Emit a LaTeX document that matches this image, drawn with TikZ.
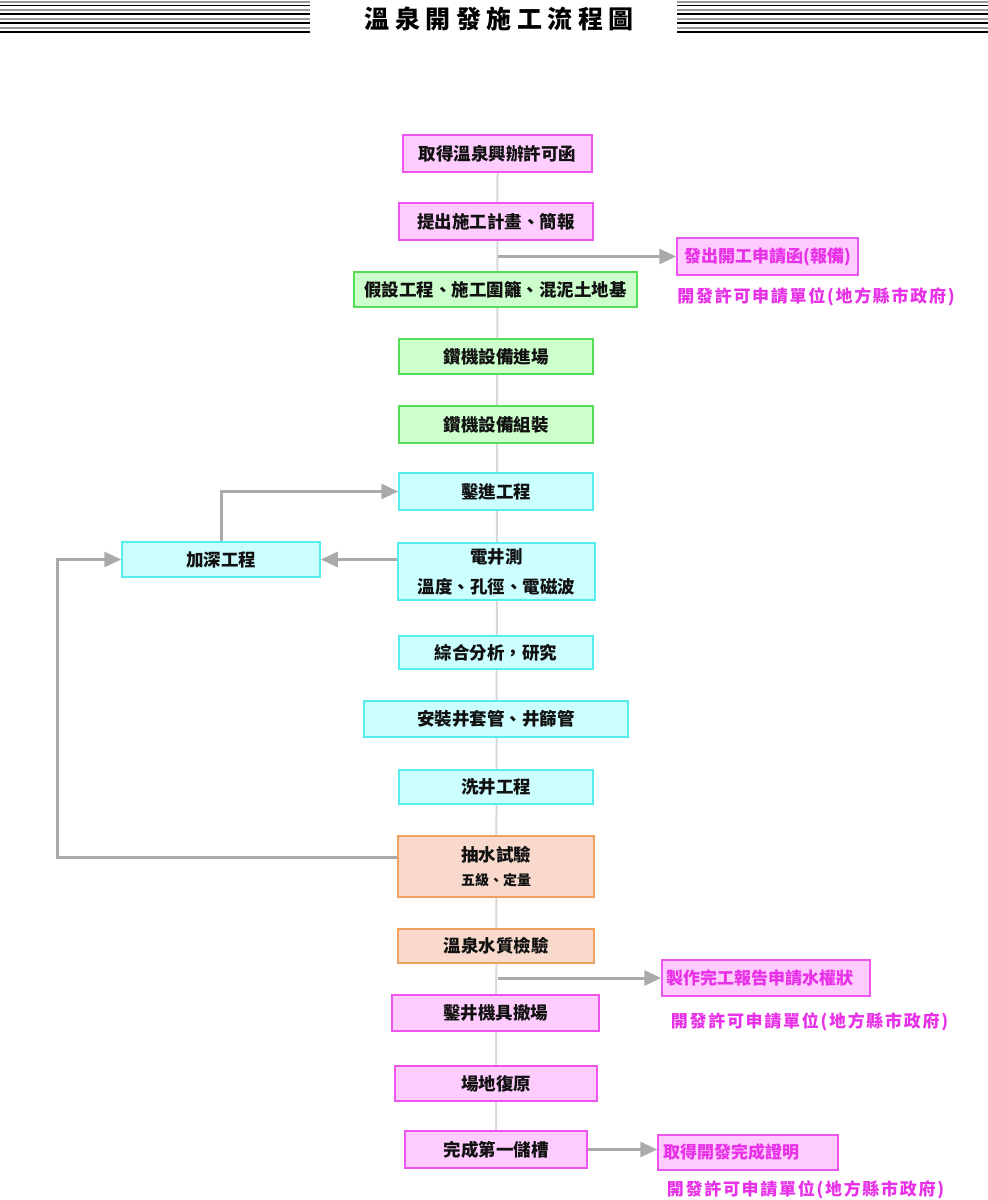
\documentclass[tikz,border=0pt]{standalone}
\usepackage{fontspec}
\usetikzlibrary{arrows.meta,backgrounds}
\newfontfamily\cjk{Noto Sans CJK TC}
\newfontfamily\cjktitle[LetterSpace=22]{Noto Sans CJK TC}
\newfontfamily\cjklab[LetterSpace=10]{Noto Sans CJK TC}
\definecolor{pinkfill}{HTML}{FFCCFF}
\definecolor{pinkline}{HTML}{EE55EE}
\definecolor{greenfill}{HTML}{CCFFCC}
\definecolor{greenline}{HTML}{55DD55}
\definecolor{cyanfill}{HTML}{CCFFFF}
\definecolor{cyanline}{HTML}{55EEEE}
\definecolor{orgfill}{HTML}{F8D9CB}
\definecolor{orgline}{HTML}{F0A060}
\definecolor{magtext}{HTML}{E830E8}
\definecolor{arrgray}{HTML}{AAAAAA}
\definecolor{maingray}{HTML}{D8D8D8}
\definecolor{stripegray}{HTML}{999999}
\definecolor{boxtext}{HTML}{111111}
\tikzset{
  box/.style={draw, line width=1.5pt, inner sep=0pt, align=center, text=boxtext,
    font=\cjk\bfseries\fontsize{17.5}{30}\selectfont},
  pinkbox/.style={box, fill=pinkfill, draw=pinkline},
  greenbox/.style={box, fill=greenfill, draw=greenline},
  cyanbox/.style={box, fill=cyanfill, draw=cyanline},
  orgbox/.style={box, fill=orgfill, draw=orgline},
  magbox/.style={pinkbox, text=magtext, font=\cjk\bfseries\fontsize{17}{20}\selectfont},
  maglabel/.style={text=magtext, inner sep=0pt, font=\cjklab\bfseries\fontsize{17}{20}\selectfont},
  arr/.style={draw=arrgray, line width=3pt, -{Triangle[length=17pt,width=15pt]}, color=arrgray},
  gstripe/.style={stripegray, line width=2pt},
  kstripe/.style={black, line width=1.3pt},
}
\begin{document}
\begin{tikzpicture}[x=1pt,y=-1pt]
\useasboundingbox (0,0) rectangle (988,1200);
% header stripes
\foreach \yy in {1.5,10,18.5,27.5}{
  \draw[gstripe] (0,\yy) -- (310,\yy);
  \draw[gstripe] (677,\yy) -- (988,\yy);
}
\foreach \yy in {5.5,14,23,32}{
  \draw[kstripe] (0,\yy) -- (310,\yy);
  \draw[kstripe] (677,\yy) -- (988,\yy);
}
\node[font=\cjktitle\bfseries\fontsize{25}{25}\selectfont, inner sep=0pt] (title) at (499,19) {溫泉開發施工流程圖};

% main column
\node[pinkbox, minimum width=189pt, minimum height=37pt] (b1) at (497.5,153.5) {取得溫泉興辦許可函};
\node[pinkbox, minimum width=194pt, minimum height=37pt] (b2) at (496,221.5) {提出施工計畫、簡報};
\node[greenbox, minimum width=283pt, minimum height=35pt] (b4) at (495.5,289.5) {假設工程、施工圍籬、混泥土地基};
\node[greenbox, minimum width=194pt, minimum height=35pt] (b5) at (496,356.5) {鑽機設備進場};
\node[greenbox, minimum width=194pt, minimum height=37pt] (b6) at (496,424.5) {鑽機設備組裝};
\node[cyanbox, minimum width=194pt, minimum height=37pt] (b7) at (496,491.5) {鑿進工程};
\node[cyanbox, minimum width=197pt, minimum height=57pt] (b8) at (496.5,571.5) {電井測\\溫度、孔徑、電磁波};
\node[cyanbox, minimum width=198pt, minimum height=35pt] (b9) at (221,559.5) {加深工程};
\node[cyanbox, minimum width=194pt, minimum height=33pt] (b10) at (496,652.5) {綜合分析，研究};
\node[cyanbox, minimum width=264pt, minimum height=36pt] (b11) at (496,719) {安裝井套管、井篩管};
\node[cyanbox, minimum width=194pt, minimum height=34pt] (b12) at (496,787) {洗井工程};
\node[orgbox, minimum width=196pt, minimum height=61pt] (b13) at (496,866.5) {抽水試驗\\[-6pt]{\fontsize{14}{18}\selectfont 五級、定量}};
\node[orgbox, minimum width=196pt, minimum height=34pt] (b14) at (496,946) {溫泉水質檢驗};
\node[pinkbox, minimum width=207pt, minimum height=36pt] (b16) at (495.5,1013) {鑿井機具撤場};
\node[pinkbox, minimum width=202pt, minimum height=35pt] (b17) at (496,1083.5) {場地復原};
\node[pinkbox, minimum width=182pt, minimum height=37pt] (b18) at (496,1149.5) {完成第一儲槽};

% right side
\node[magbox, minimum width=181pt, minimum height=37pt] (b3) at (767.5,256.5) {發出開工申請函(報備)};
\node[maglabel] (l1) at (816,297) {開發許可申請單位(地方縣市政府)};
\node[magbox, minimum width=208pt, minimum height=36pt, text width=200pt, align=left] (b15) at (766,978) {製作完工報告申請水權狀};
\node[maglabel] (l2) at (809.5,1022) {開發許可申請單位(地方縣市政府)};
\node[magbox, minimum width=180pt, minimum height=35pt, text width=170pt, align=left] (b19) at (748,1152.5) {取得開發完成證明};
\node[maglabel] (l3) at (805.5,1190) {開發許可申請單位(地方縣市政府)};

% main vertical line
\begin{scope}[on background layer]
\draw[maingray, line width=2pt] (b1.south) -- (b18.north);
\end{scope}

\coordinate (j1) at (b1.south |- b3.west);
\coordinate (j2) at (b1.south |- b15.west);
\draw[arr] (j1) -- (b3.west);
\draw[arr] (j2) -- (b15.west);
\draw[arr] (b8.west |- b9.east) -- (b9.east);
\draw[arr] (b9.north) |- (b7.west);
\draw[arr] ([yshift=9pt]b13.west) -| ([xshift=-64pt]b9.west) -- (b9.west);
\draw[arr] (b18.east) -- (b18.east -| b19.west);
\end{tikzpicture}
\end{document}
